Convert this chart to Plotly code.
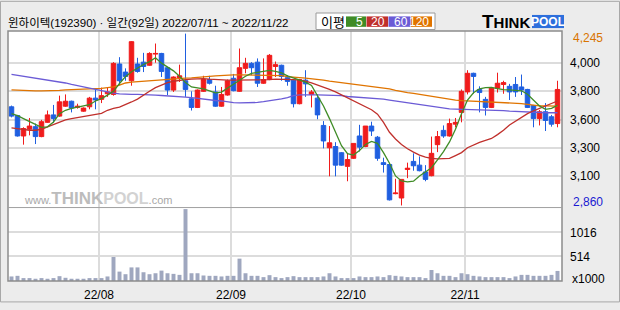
import numpy as np
import pandas as pd
import plotly.graph_objects as go

# ---------------- data ----------------
HOLIDAYS = ["2022-08-15", "2022-09-09", "2022-09-12", "2022-10-03", "2022-10-10"]
dates = [d for d in pd.bdate_range("2022-07-11", "2022-11-22")
         if d.strftime("%Y-%m-%d") not in HOLIDAYS]

open_p = [3655, 3585, 3420, 3475, 3495, 3415, 3530, 3590, 3580, 3660,
          3700, 3650, 3620, 3655, 3725, 3715, 3760, 3755, 4000, 3935,
          3865, 4000, 4015, 3990, 4080, 4085, 3970, 3790, 3890, 3865,
          3720, 3650, 3780, 3875, 3775, 3660, 3750, 3885, 3780, 3965,
          4005, 4015, 3845, 3875, 3980, 3990, 3890, 3870, 3680, 3870,
          3755, 3725, 3505, 3325, 3335, 3285, 3175, 3240, 3420, 3335,
          3500, 3410, 3205, 3190, 2955, 2920, 3150, 3215, 3185, 3130,
          3100, 3350, 3465, 3420, 3515, 3610, 3775, 3925, 3795, 3715,
          3650, 3805, 3835, 3820, 3835, 3815, 3795, 3665, 3560, 3615,
          3575, 3520]
high_p = [3665, 3590, 3490, 3565, 3520, 3550, 3625, 3670, 3745, 3755,
          3705, 3680, 3650, 3735, 3800, 3810, 3810, 4015, 4055, 3965,
          4185, 4050, 4090, 4095, 4165, 4090, 3975, 3900, 3995, 4245,
          3780, 3795, 3905, 3905, 3825, 3815, 3875, 3920, 4125, 4050,
          4015, 4045, 4045, 4080, 4020, 3995, 3910, 3875, 3880, 3950,
          3790, 3755, 3540, 3500, 3370, 3290, 3280, 3360, 3510, 3500,
          3535, 3420, 3245, 3195, 3075, 3070, 3205, 3280, 3255, 3185,
          3415, 3460, 3505, 3560, 3565, 3795, 3950, 3930, 3820, 3735,
          3810, 3930, 3865, 3840, 3895, 3915, 3800, 3670, 3630, 3685,
          3590, 3865]
low_p = [3570, 3415, 3350, 3425, 3355, 3410, 3525, 3525, 3575, 3655,
         3610, 3640, 3615, 3635, 3635, 3685, 3735, 3745, 3830, 3865,
         3825, 3930, 3935, 3985, 4010, 3895, 3750, 3775, 3855, 3735,
         3625, 3645, 3775, 3835, 3655, 3655, 3745, 3780, 3775, 3925,
         3910, 3815, 3840, 3870, 3895, 3865, 3825, 3650, 3675, 3735,
         3650, 3555, 3320, 3095, 3095, 3180, 3055, 3235, 3295, 3330,
         3420, 3220, 3125, 2900, 2950, 2860, 3080, 3140, 3135, 3055,
         3095, 3290, 3405, 3415, 3490, 3530, 3755, 3760, 3610, 3585,
         3645, 3770, 3760, 3710, 3735, 3750, 3645, 3490, 3505, 3460,
         3495, 3490]
close_p = [3580, 3420, 3480, 3500, 3415, 3535, 3590, 3560, 3695, 3700,
           3645, 3660, 3645, 3725, 3710, 3745, 3775, 4005, 3865, 3900,
           4180, 3940, 3980, 4085, 4085, 3940, 3790, 3895, 3905, 3795,
           3650, 3790, 3875, 3845, 3660, 3755, 3865, 3785, 3970, 4005,
           3970, 3845, 3875, 4070, 3995, 3900, 3860, 3680, 3875, 3840,
           3775, 3590, 3380, 3365, 3185, 3185, 3230, 3360, 3330, 3500,
           3460, 3240, 3190, 2905, 2960, 3070, 3160, 3180, 3140, 3070,
           3280, 3415, 3420, 3520, 3530, 3780, 3925, 3900, 3770, 3650,
           3805, 3845, 3850, 3775, 3775, 3790, 3650, 3560, 3615, 3545,
           3515, 3795]
volume_k = [95, 108, 61, 61, 47, 61, 47, 61, 101, 67,
            47, 47, 47, 61, 61, 61, 95, 501, 196, 142,
            284, 284, 183, 142, 162, 217, 162, 149, 128, 1502,
            162, 162, 115, 108, 108, 95, 108, 108, 467, 162,
            108, 108, 81, 122, 81, 61, 81, 101, 81, 81,
            81, 81, 95, 162, 95, 61, 61, 61, 95, 81,
            81, 95, 81, 122, 108, 95, 81, 81, 81, 61,
            230, 162, 108, 108, 81, 162, 142, 108, 95, 81,
            81, 81, 81, 61, 95, 128, 128, 108, 108, 108,
            128, 210]
ma5 = [3600, 3584, 3560, 3537, 3513, 3490, 3494, 3533, 3600, 3627,
       3643, 3654, 3664, 3672, 3702, 3721, 3749, 3780, 3843, 3898,
       3937, 3968, 3996, 4019, 4050, 4007, 3976, 3945, 3901, 3850,
       3815, 3809, 3800, 3784, 3767, 3774, 3807, 3835, 3874, 3901,
       3925, 3933, 3941, 3949, 3941, 3929, 3905, 3890, 3874, 3854,
       3827, 3749, 3662, 3560, 3443, 3341, 3278, 3266, 3302, 3352,
       3376, 3360, 3286, 3200, 3098, 3058, 3050, 3056, 3098, 3129,
       3164, 3227, 3294, 3372, 3474, 3600, 3709, 3768, 3800, 3809,
       3811, 3801, 3793, 3792, 3789, 3784, 3756, 3705, 3662, 3635,
       3643, 3666]
ma20 = [3486, 3478, 3470, 3466, 3466, 3474, 3494, 3513, 3533, 3549,
        3560, 3568, 3576, 3584, 3590, 3603, 3627, 3643, 3652, 3670,
        3694, 3717, 3752, 3780, 3809, 3831, 3850, 3861, 3869, 3874,
        3878, 3882, 3882, 3878, 3874, 3870, 3870, 3870, 3870, 3870,
        3870, 3870, 3870, 3874, 3878, 3878, 3878, 3874, 3870, 3862,
        3847, 3831, 3815, 3796, 3776, 3752, 3729, 3705, 3682, 3658,
        3631, 3596, 3529, 3450, 3396, 3352, 3317, 3290, 3266, 3250,
        3239, 3235, 3235, 3239, 3262, 3286, 3325, 3349, 3368, 3384,
        3400, 3431, 3466, 3509, 3541, 3568, 3600, 3623, 3643, 3666,
        3686, 3702]
ma60 = [3917, 3909, 3903, 3896, 3887, 3880, 3872, 3866, 3858, 3847,
        3835, 3825, 3814, 3802, 3792, 3782, 3774, 3766, 3760, 3756,
        3755, 3755, 3755, 3752, 3749, 3746, 3744, 3741, 3737, 3733,
        3729, 3723, 3713, 3710, 3706, 3702, 3694, 3688, 3686, 3686,
        3686, 3690, 3696, 3702, 3710, 3719, 3729, 3745, 3752, 3754,
        3752, 3751, 3750, 3749, 3749, 3745, 3738, 3735, 3733, 3731,
        3727, 3723, 3717, 3709, 3702, 3694, 3686, 3678, 3670, 3662,
        3654, 3647, 3643, 3639, 3637, 3636, 3635, 3635, 3633, 3631,
        3631, 3629, 3625, 3621, 3618, 3615, 3611, 3607, 3607, 3607,
        3607, 3607]
ma120 = [3792, 3789, 3788, 3785, 3784, 3784, 3784, 3785, 3788, 3792,
         3793, 3794, 3795, 3796, 3800, 3803, 3809, 3815, 3829, 3847,
         3854, 3858, 3861, 3864, 3866, 3869, 3874, 3880, 3885, 3887,
         3888, 3894, 3898, 3900, 3904, 3909, 3912, 3913, 3913, 3913,
         3913, 3913, 3913, 3913, 3912, 3907, 3898, 3892, 3890, 3886,
         3882, 3877, 3870, 3862, 3856, 3850, 3844, 3839, 3832, 3827,
         3819, 3811, 3807, 3800, 3788, 3776, 3770, 3764, 3756, 3745,
         3737, 3727, 3721, 3715, 3709, 3705, 3703, 3702, 3700, 3698,
         3696, 3694, 3690, 3686, 3684, 3681, 3674, 3666, 3662, 3662,
         3662, 3661]

price_tick_labels = ["3,100", "3,300", "3,600", "3,800", "4,000"]
vol_tick_vals = [514, 1016]
ma_labels = ["5", "20", "60", "120"]
title_text = "윈하이텍(192390) · 일간(92일) 2022/07/11 ~ 2022/11/22"

# ---------------- styling / geometry ----------------
W, H = 620, 310
L, R, T, B = 8, 58, 31, 22
PW, PH = W - L - R, H - T - B

def px_x(px):
    return (px - L) / PW

def px_y(py):
    return (H - B - py) / PH

MA_COLORS = ["#3f8c26", "#c0302c", "#6b5bd6", "#e07400"]
UP, DOWN = "#f01c1c", "#1f5fe0"
GRID = "#dcdcdc"
FONT = "Liberation Sans, Noto Sans CJK KR"

n = len(close_p)
x = np.arange(n)
pmax, pmin = max(high_p), min(low_p)
span = pmax - pmin
price_range = [pmin - 13, pmax + 21]
grid_vals = np.linspace(pmin + 0.17 * span, pmax - 0.17 * span, 5)

month_idx = [i for i in range(1, n) if dates[i].month != dates[i - 1].month]
month_pos = [i - 0.42 for i in month_idx]
month_txt = [dates[i].strftime("%y/%m") for i in month_idx]

fig = go.Figure()
for vals, col in zip([ma120, ma60, ma20, ma5], MA_COLORS[::-1]):
    fig.add_trace(go.Scatter(x=x, y=vals, mode="lines", xaxis="x", yaxis="y",
                             line=dict(color=col, width=1.3), hoverinfo="skip"))
fig.add_trace(go.Candlestick(
    x=x, open=open_p, high=high_p, low=low_p, close=close_p, xaxis="x", yaxis="y",
    increasing=dict(line=dict(color=UP, width=1), fillcolor=UP),
    decreasing=dict(line=dict(color=DOWN, width=1), fillcolor=DOWN),
    whiskerwidth=0, hoverinfo="skip"))
fig.add_trace(go.Bar(x=x, y=volume_k, xaxis="x", yaxis="y2", width=0.66,
                     marker=dict(color="#9fa7bf", line=dict(width=0)), hoverinfo="skip"))

vol_top = 1524
price_dom0 = px_y(212)
vol_dom1 = px_y(213)

fig.update_layout(
    width=W, height=H, margin=dict(l=L, r=R, t=T, b=B),
    paper_bgcolor="#ececec", plot_bgcolor="white", showlegend=False,
    boxgap=0.15, boxgroupgap=0.12,
    font=dict(family=FONT, size=12, color="black"),
    xaxis=dict(range=[-3.5 / 6, -3.5 / 6 + PW / 6], anchor="y2",
               tickvals=month_pos, ticktext=month_txt, showgrid=True,
               gridcolor=GRID, gridwidth=2, zeroline=False, ticks="",
               showline=False, rangeslider=dict(visible=False),
               tickfont=dict(size=12), ticklabelstandoff=5),
    yaxis=dict(domain=[price_dom0, 1], range=price_range, side="right", anchor="x",
               tickvals=grid_vals, ticktext=price_tick_labels, showgrid=True,
               gridcolor=GRID, gridwidth=2, zeroline=False, ticks="",
               tickfont=dict(size=12), ticklabelstandoff=7),
    yaxis2=dict(domain=[0, vol_dom1], range=[0, vol_top], side="right", anchor="x",
                tickvals=vol_tick_vals, ticktext=[str(v) for v in vol_tick_vals],
                showgrid=True, gridcolor=GRID, gridwidth=2, zeroline=False,
                ticks="", tickfont=dict(size=12), ticklabelstandoff=7),
)

shapes = [
    # outer frame
    dict(type="rect", xref="paper", yref="paper", x0=px_x(0.5), x1=px_x(619.5),
         y0=px_y(309.5), y1=px_y(0.5), line=dict(color="#a8a8a8", width=1)),
    # plot frame
    dict(type="rect", xref="paper", yref="paper", x0=0, x1=1, y0=0, y1=1,
         line=dict(color="#8c8c8c", width=1.5)),
    # separator
    dict(type="line", xref="paper", yref="paper", x0=0, x1=1,
         y0=px_y(212.5), y1=px_y(212.5), line=dict(color="#a0a0a0", width=1)),
    # legend box
    dict(type="rect", xref="paper", yref="paper", x0=px_x(316), x1=px_x(435),
         y0=px_y(29.5), y1=px_y(12.5), fillcolor="white",
         line=dict(color="#9a9a9a", width=1)),
    # THINKPOOL logo blue box
    dict(type="rect", xref="paper", yref="paper", x0=px_x(532), x1=px_x(564),
         y0=px_y(28), y1=px_y(14.5), fillcolor="#2d6fdc", line=dict(width=0)),
]
box_edges = [346, 366.5, 388.5, 411, 432.5]
for k, lab in enumerate(ma_labels):
    shapes.append(dict(type="rect", xref="paper", yref="paper",
                       x0=px_x(box_edges[k]), x1=px_x(box_edges[k + 1] - 0.5),
                       y0=px_y(26.7), y1=px_y(16), fillcolor=MA_COLORS[k],
                       line=dict(width=0)))
fig.update_layout(shapes=shapes)

ann = []
def add_text(text, px, py, size=12, color="black", xanchor="left", family=FONT, **kw):
    ann.append(dict(text=text, xref="paper", yref="paper", x=px_x(px), y=px_y(py),
                    xanchor=xanchor, yanchor="middle", showarrow=False,
                    font=dict(size=size, color=color, family=family), **kw))

add_text(title_text, 6, 22, size=11.5)
add_text("이평", 319, 21, size=13, family="Noto Sans CJK KR")
for k, lab in enumerate(ma_labels):
    add_text(lab, box_edges[k + 1] - 1.5, 21.5, size=12, color="white", xanchor="right")
add_text("<b><span style='font-size:19px'>T</span>HINK</b>", 480, 21.5, size=15)
add_text("<b>POOL</b>", 548, 21.5, size=12, color="white", xanchor="center")
add_text("<span style='color:#a8a8a8'>www.</span><b><span style='font-size:17px;color:#bcbcbc'>THINK</span>"
         "<span style='font-size:16px;color:#d2d2d2'>POOL</span></b>"
         "<span style='color:#a8a8a8'>.com</span>", 22, 203, size=11, color="#b8b8b8")
# extreme price labels
ann.append(dict(text=f"{pmax:,}", xref="paper", yref="y", x=px_x(571), y=pmax,
                yshift=-4.6, xanchor="left", yanchor="middle", showarrow=False,
                font=dict(size=12, color="#d97400", family=FONT)))
ann.append(dict(text=f"{pmin:,}", xref="paper", yref="y", x=px_x(571), y=pmin,
                yshift=3.6, xanchor="left", yanchor="middle", showarrow=False,
                font=dict(size=12, color="#1a1ad2", family=FONT)))
add_text("x1000", 570, 286, size=12)
fig.update_layout(annotations=ann)

fig.write_html("out.html", config={"displayModeBar": False})
